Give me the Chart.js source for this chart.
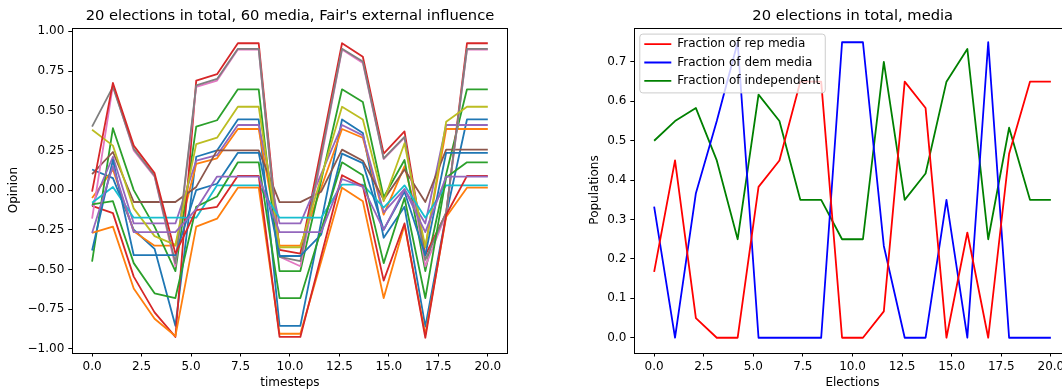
<!DOCTYPE html>
<html>
<head>
<meta charset="utf-8">
<script src="https://cdn.jsdelivr.net/npm/chart.js@4.4.0/dist/chart.umd.min.js"></script>
<style>
html,body{margin:0;padding:0;width:1062px;height:391px;overflow:hidden;background:#ffffff;}
#c1{position:absolute;left:0;top:0;}
#c2{position:absolute;left:540px;top:0;}
.ttl{position:absolute;top:6px;height:18px;line-height:18px;text-align:center;font-family:'DejaVu Sans';font-size:14.7px;color:#000;white-space:nowrap;}
</style>
</head>
<body>
<canvas id="c1" width="580" height="391"></canvas>
<canvas id="c2" width="625" height="391"></canvas>
<div class="ttl" id="t1" style="left:40px;width:500px;"></div>
<div class="ttl" id="t2" style="left:652.7px;width:400px;"></div>
<script>
// ---------- data ----------
const leftTitle = "20 elections in total, 60 media, Fair's external influence";
const rightTitle = '20 elections in total, media';
const timesteps = [0, 1.053, 2.105, 3.158, 4.211, 5.263, 6.316, 7.368, 8.421, 9.474, 10.526, 11.579, 12.632, 13.684, 14.737, 15.789, 16.842, 17.895, 18.947, 20];
const xTicks = [0, 2.5, 5, 7.5, 10, 12.5, 15, 17.5, 20];
const xTickLabels = ['0.0', '2.5', '5.0', '7.5', '10.0', '12.5', '15.0', '17.5', '20.0'];
const opinionTicks = [-1, -0.75, -0.5, -0.25, 0, 0.25, 0.5, 0.75, 1];
const opinionTickLabels = ['\u22121.00', '\u22120.75', '\u22120.50', '\u22120.25', '0.00', '0.25', '0.50', '0.75', '1.00'];
const populationTicks = [0, 0.1, 0.2, 0.3, 0.4, 0.5, 0.6, 0.7];
const populationTickLabels = ['0.0', '0.1', '0.2', '0.3', '0.4', '0.5', '0.6', '0.7'];

// media opinions (left panel)
const mediaBlue1   = [0.13, 0.075, -0.25, -0.37, -0.855, 0.21, 0.25, 0.445, 0.445, -0.855, -0.855, -0.2, 0.445, 0.36, -0.30, -0.105, -0.86, -0.155, 0.445, 0.445];
const mediaOrange1 = [-0.05, 0.13, -0.26, -0.35, -0.35, 0.165, 0.20, 0.385, 0.385, -0.35, -0.35, 0.015, 0.385, 0.33, -0.155, 0.15, -0.36, 0.385, 0.385, 0.385];
const mediaGreen1  = [-0.45, 0.39, 0.0, -0.23, -0.51, 0.40, 0.44, 0.635, 0.635, -0.51, -0.51, 0.06, 0.635, 0.555, -0.045, 0.19, -0.51, 0.10, 0.635, 0.635];
const mediaRed1    = [-0.10, -0.145, -0.545, -0.77, -0.925, 0.69, 0.73, 0.925, 0.925, -0.377, -0.40, 0.26, 0.925, 0.84, 0.23, 0.37, -0.41, -0.145, 0.925, 0.925];
const mediaPurple1 = [-0.10, 0.21, -0.21, -0.21, -0.21, 0.185, 0.22, 0.41, 0.41, -0.21, -0.21, 0.10, 0.41, 0.345, -0.14, 0.006, -0.21, 0.41, 0.41, 0.41];
const mediaBrown1  = [0.10, 0.24, -0.075, -0.075, -0.075, 0.02, 0.25, 0.25, 0.25, -0.076, -0.076, -0.01, 0.255, 0.185, -0.06, 0.13, -0.075, 0.255, 0.255, 0.255];
const mediaPink1   = [-0.18, 0.66, 0.25, 0.085, -0.48, 0.65, 0.69, 0.885, 0.885, -0.42, -0.48, 0.20, 0.885, 0.80, 0.195, 0.33, -0.48, -0.15, 0.885, 0.885];
const mediaGray1   = [0.40, 0.65, 0.26, 0.09, -0.46, 0.66, 0.70, 0.89, 0.89, -0.42, -0.447, 0.22, 0.89, 0.81, 0.20, 0.335, -0.44, -0.14, 0.89, 0.89];
const mediaOlive1  = [0.38, 0.28, -0.115, -0.29, -0.345, 0.29, 0.33, 0.525, 0.525, -0.36, -0.36, 0.08, 0.525, 0.445, -0.07, 0.295, -0.36, 0.43, 0.525, 0.525];
const mediaCyan1   = [-0.08, 0.02, -0.174, -0.174, -0.174, -0.174, 0.03, 0.03, 0.03, -0.174, -0.174, -0.174, 0.035, 0.035, -0.11, 0.03, -0.174, 0.03, 0.03, 0.03];
const mediaBlue2   = [-0.38, 0.19, -0.41, -0.41, -0.41, 0.00, 0.04, 0.235, 0.235, -0.415, -0.415, -0.28, 0.23, 0.17, -0.25, -0.01, -0.41, 0.235, 0.235, 0.235];
const mediaOrange2 = [-0.27, -0.23, -0.62, -0.81, -0.92, -0.23, -0.18, 0.015, 0.015, -0.905, -0.905, -0.45, 0.015, -0.07, -0.68, -0.22, -0.91, -0.17, 0.015, 0.015];
const mediaGreen2  = [-0.09, -0.07, -0.46, -0.65, -0.68, -0.105, -0.04, 0.175, 0.175, -0.68, -0.68, -0.25, 0.175, 0.094, -0.46, -0.05, -0.68, 0.08, 0.175, 0.175];
const mediaRed2    = [-0.01, 0.675, 0.28, 0.107, -0.40, -0.126, -0.105, 0.09, 0.09, -0.925, -0.925, -0.415, 0.094, 0.025, -0.57, -0.21, -0.93, -0.157, 0.09, 0.09];
const mediaPurple2 = [-0.27, 0.15, -0.265, -0.265, -0.265, -0.12, 0.085, 0.085, 0.085, -0.265, -0.265, -0.265, 0.07, 0.02, -0.25, 0.006, -0.265, 0.085, 0.085, 0.085];

// fractions (right panel)
const repFraction = [0.167, 0.45, 0.05, 0, 0, 0.383, 0.45, 0.65, 0.65, 0, 0, 0.067, 0.65, 0.583, 0, 0.267, 0, 0.467, 0.65, 0.65];
const demFraction = [0.333, 0, 0.367, 0.55, 0.75, 0, 0, 0, 0, 0.75, 0.75, 0.233, 0, 0, 0.35, 0, 0.75, 0, 0, 0];
const indFraction = [0.5, 0.55, 0.583, 0.45, 0.25, 0.617, 0.55, 0.35, 0.35, 0.25, 0.25, 0.7, 0.35, 0.417, 0.65, 0.733, 0.25, 0.533, 0.35, 0.35];

// ---------- styles ----------
document.getElementById('t1').textContent = leftTitle;
document.getElementById('t2').textContent = rightTitle;
const FONT = 'DejaVu Sans';
const tab10 = ['#1f77b4', '#ff7f0e', '#2ca02c', '#d62728', '#9467bd', '#8c564b', '#e377c2', '#7f7f7f', '#bcbd22', '#17becf'];
const mediaSeries = [mediaBlue1, mediaOrange1, mediaGreen1, mediaRed1, mediaPurple1, mediaBrown1, mediaPink1, mediaGray1, mediaOlive1, mediaCyan1,
                     mediaBlue2, mediaOrange2, mediaGreen2, mediaRed2, mediaPurple2];

function pts(values) { return values.map((v, i) => ({x: timesteps[i], y: v})); }

const framePlugin = {
  id: 'frame',
  beforeLayout(chart) {
    const lg = chart.legend;
    if (lg && !lg._zPatched) {
      lg._layers = () => [{z: 1, draw: (ca) => lg.draw(ca)}];
      lg._zPatched = true;
    }
  },
  afterLayout(chart) {
    const lg = chart.legend;
    if (lg && chart.options.plugins.legend.display) {
      lg.left = chart.chartArea.left + 3.6;
      lg.top = chart.chartArea.top + 4.2;
    }
  },
  afterDatasetsDraw(chart) {
    const {ctx, chartArea: a} = chart;
    ctx.save();
    ctx.strokeStyle = '#000';
    ctx.lineWidth = 1;
    ctx.strokeRect(Math.round(a.left) + 0.5, Math.round(a.top) + 0.5, Math.round(a.right - a.left), Math.round(a.bottom - a.top));
    const lg = chart.legend;
    if (lg && chart.options.plugins.legend.display && lg.legendHitBoxes && lg.legendHitBoxes.length) {
      const hb = lg.legendHitBoxes;
      let l = Infinity, t = Infinity, r = -Infinity, b = -Infinity;
      hb.forEach(h => { l = Math.min(l, h.left); t = Math.min(t, h.top); r = Math.max(r, h.left + h.width); b = Math.max(b, h.top + h.height); });
      l -= 4.5; t -= 4; r += 5; b += 6;
      const rad = 3;
      ctx.beginPath();
      ctx.moveTo(l + rad, t);
      ctx.lineTo(r - rad, t); ctx.quadraticCurveTo(r, t, r, t + rad);
      ctx.lineTo(r, b - rad); ctx.quadraticCurveTo(r, b, r - rad, b);
      ctx.lineTo(l + rad, b); ctx.quadraticCurveTo(l, b, l, b - rad);
      ctx.lineTo(l, t + rad); ctx.quadraticCurveTo(l, t, l + rad, t);
      ctx.closePath();
      ctx.fillStyle = 'rgba(255,255,255,0.8)';
      ctx.fill();
      ctx.strokeStyle = '#cccccc';
      ctx.stroke();
    }
    ctx.restore();
  }
};

function xScale(titleText) {
  return {
    type: 'linear', min: -1, max: 21,
    afterBuildTicks: s => { s.ticks = xTicks.map(v => ({value: v})); },
    afterFit: s => { s.height = 38.5; },
    ticks: {autoSkip: false, maxRotation: 0, padding: 3, color: '#000', font: {family: FONT, size: 12},
            callback: v => xTickLabels[xTicks.indexOf(v)]},
    grid: {drawOnChartArea: false, drawTicks: true, tickLength: 4, color: '#000', tickWidth: 1},
    border: {display: false},
    title: {display: true, text: titleText, color: '#000', font: {family: FONT, size: 12}, padding: {top: 0, bottom: 1}}
  };
}

function yScale(titleText, tickVals, tickLabels, min, max, width, titlePad) {
  return {
    type: 'linear', min: min, max: max,
    afterBuildTicks: s => { s.ticks = tickVals.map(v => ({value: v})); },
    afterFit: s => { s.width = width; },
    ticks: {autoSkip: false, padding: 4, color: '#000', font: {family: FONT, size: 12},
            callback: v => tickLabels[tickVals.indexOf(v)]},
    grid: {drawOnChartArea: false, drawTicks: true, tickLength: 4, color: '#000', tickWidth: 1},
    border: {display: false},
    title: {display: true, text: titleText, color: '#000', font: {family: FONT, size: 12}, padding: {top: titlePad, bottom: 0}}
  };
}

const leftDatasets = mediaSeries.map((vals, k) => ({
  label: 'media ' + k,
  data: pts(vals),
  borderColor: tab10[k % 10],
  backgroundColor: tab10[k % 10],
  borderWidth: 1.8,
  pointRadius: 0,
  tension: 0,
  fill: false,
  borderJoinStyle: 'round'
})).reverse();

new Chart(document.getElementById('c1'), {
  type: 'line',
  data: {datasets: leftDatasets},
  options: {
    responsive: false, animation: false, events: [],
    layout: {padding: {left: 0, right: 72.4, top: 27.7, bottom: 0}},
    plugins: {
      legend: {display: false},
      tooltip: {enabled: false},
      title: {display: false}
    },
    scales: {
      x: xScale('timesteps'),
      y: yScale('Opinion', opinionTicks, opinionTickLabels, -1.023, 1.023, 72.3, 7)
    }
  },
  plugins: [framePlugin]
});

const rightDatasets = [
  {label: 'Fraction of rep media', data: pts(repFraction), borderColor: '#ff0000', backgroundColor: '#ff0000'},
  {label: 'Fraction of dem media', data: pts(demFraction), borderColor: '#0000ff', backgroundColor: '#0000ff'},
  {label: 'Fraction of independent', data: pts(indFraction), borderColor: '#008000', backgroundColor: '#008000'}
].map(d => Object.assign(d, {borderWidth: 1.8, pointRadius: 0, tension: 0, fill: false, borderJoinStyle: 'round'}));

new Chart(document.getElementById('c2'), {
  type: 'line',
  data: {datasets: rightDatasets},
  options: {
    responsive: false, animation: false, events: [],
    layout: {padding: {left: 0, right: 94.3, top: 27.5, bottom: 0}},
    plugins: {
      tooltip: {enabled: false},
      title: {display: false},
      legend: {
        display: true, position: 'chartArea', align: 'start', reverse: false,
        labels: {usePointStyle: true, pointStyle: 'line', pointStyleWidth: 27, boxHeight: 12, padding: 6.4,
                 color: '#000', font: {family: FONT, size: 12}}
      }
    },
    scales: {
      x: xScale('Elections'),
      y: yScale('Populations', populationTicks, populationTickLabels, -0.0375, 0.7875, 94.3, 48)
    }
  },
  plugins: [framePlugin]
});
</script>
</body>
</html>
